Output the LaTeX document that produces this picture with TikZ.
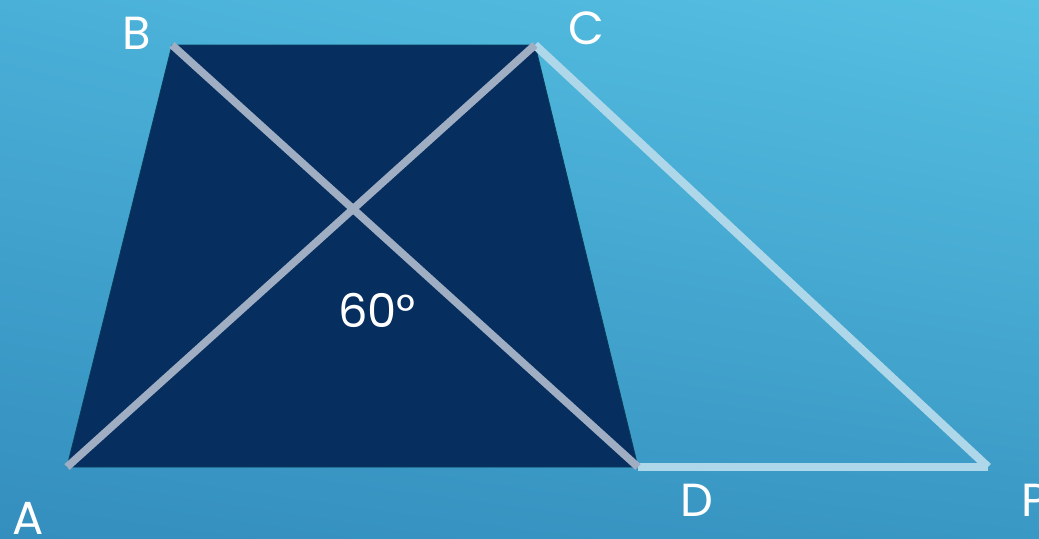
\documentclass[tikz,border=0pt]{standalone}
\usepackage{fontspec}
\setmainfont{Poppins}
\usetikzlibrary{shadings}
\definecolor{navy}{HTML}{062E5E}
\definecolor{rim}{HTML}{0A3C5A}
\definecolor{diag}{HTML}{A0AEC4}
\definecolor{side}{HTML}{AED8EA}
\definecolor{bgUL}{HTML}{4AB0D8}
\definecolor{bgUR}{HTML}{56C0E2}
\definecolor{bgLL}{HTML}{348EBE}
\definecolor{bgLR}{HTML}{3A98C4}
\tikzset{
  lbl/.style={text=white,font=\fontsize{33}{38}\selectfont,inner sep=0pt},
  diagline/.style={diag,line width=5.5pt},
  sideline/.style={side,line width=6pt}
}
\begin{document}
\begin{tikzpicture}[x=0.025cm,y=-0.025cm]
  % background
  \useasboundingbox (0,0) rectangle (1039,539);
  \shade[upper left=bgUL,upper right=bgUR,lower left=bgLL,lower right=bgLR]
        (0,0) rectangle (1039,539);
  % vertices
  \coordinate (A) at (67,467);
  \coordinate (B) at (172,45);
  \coordinate (C) at (535,45);
  \coordinate (D) at (638,467);
  \coordinate (P) at (988,467);
  % trapezoid
  \filldraw[fill=navy,draw=rim,line width=0.6pt] (A) -- (B) -- (C) -- (D) -- cycle;
  % extension
  \draw[sideline] (D) -- (P);
  \draw[sideline] (C) -- (P);
  % diagonals
  \draw[diagline] (A) -- (C);
  \draw[diagline] (B) -- (D);
  % labels
  \node[lbl] (lA) at (28,518) {A};
  \node[lbl] (lB) at (137,33) {B};
  \node[lbl] (lC) at (586,28) {C};
  \node[lbl] (lD) at (697,500) {D};
  \node[lbl,anchor=west] (lP) at (1021,500) {P};
  \node[lbl] (ang) at (377,310) {60°};
\end{tikzpicture}
\end{document}
